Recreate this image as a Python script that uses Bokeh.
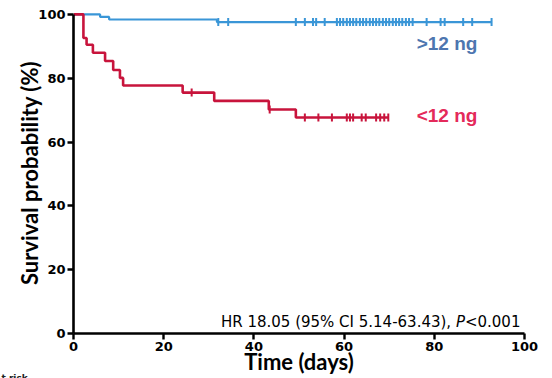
import numpy as np
from bokeh.plotting import figure
from bokeh.models import Range1d, Label, FixedTicker, Title
from bokeh.embed import file_html
from bokeh.resources import INLINE

# ---------------- data ----------------
low_event_t = [0, 2.2, 2.9, 4.3, 7.0, 8.8, 10.3, 11.0, 24.2, 31.2, 43.3, 49.3]
low_event_s = [100, 92.6, 90.5, 88.0, 85.4, 82.6, 80.1, 77.7, 75.5, 72.9, 70.2, 67.7]
low_end_t = 69.9
low_censor_t = [26.2, 43.5, 51.3, 54.3, 57.3, 60.6, 61.3, 62.0, 63.9, 64.8,
                67.1, 68.0, 68.9, 69.8]

high_event_t = [0, 5.9, 7.9, 31.8]
high_event_s = [100, 99.2, 98.4, 97.6]
high_end_t = 92.7
high_censor_t = [32.1, 34.3, 49.3, 51.3, 53.1, 53.8, 55.7,
                 58.4, 59.1, 59.8, 60.6, 61.3, 62.0, 62.7, 63.5, 64.2, 64.9,
                 65.7, 66.4, 67.1, 67.8, 68.6, 69.3, 70.0, 70.8, 71.5, 72.2,
                 72.9, 73.7, 74.4, 75.2,
                 78.3, 81.4, 82.3, 86.4, 88.4, 92.7]

x_ticks = [0, 20, 40, 60, 80, 100]
y_ticks = [0, 20, 40, 60, 80, 100]

high_name = ">12 ng"
low_name = "<12 ng"
hr_main = "HR 18.05 (95% CI 5.14-63.43),"
hr_p = "P"
hr_val = "<0.001"
corner_text = "t risk"

# ---------------- styles ----------------
BLUE_LINE = "#3a96d7"
BLUE_TEXT = "#4d76b0"
RED_LINE = "#c8143c"
RED_TEXT = "#e42a5a"

p = figure(width=552, height=378, output_backend="svg", toolbar_location=None,
           x_range=Range1d(0, 100), y_range=Range1d(0, 100.6),
           min_border_left=73, min_border_right=28, min_border_top=12,
           min_border_bottom=45)
p.outline_line_color = None
p.grid.visible = False
p.background_fill_color = "white"
p.border_fill_color = "white"


def curve(ev_t, ev_s, end_t, cens_t, color, width):
    xs = list(ev_t) + [end_t]
    ys = list(ev_s) + [ev_s[-1]]
    p.step(xs, ys, mode="after", line_color=color, line_width=width)
    idx = np.searchsorted(np.array(ev_t), np.array(cens_t), side="right") - 1
    cy = np.array(ev_s)[idx]
    p.scatter(cens_t, cy, marker="dash", angle=np.pi / 2, size=8,
              line_color=color, line_width=2)


curve(high_event_t, high_event_s, high_end_t, high_censor_t, BLUE_LINE, 2.2)
curve(low_event_t, low_event_s, low_end_t, low_censor_t, RED_LINE, 2.6)

for ax, ticks in ((p.xaxis[0], x_ticks), (p.yaxis[0], y_ticks)):
    ax.ticker = FixedTicker(ticks=ticks)
    ax.bounds = (0, 100)
    ax.axis_line_width = 2.6
    ax.axis_line_color = "black"
    ax.major_tick_line_width = 2.4
    ax.major_tick_line_color = "black"
    ax.major_tick_out = 6
    ax.major_tick_in = 0
    ax.minor_tick_line_color = None
    ax.major_label_text_font = "DejaVu Sans"
    ax.major_label_text_font_style = "bold"
    ax.major_label_text_font_size = "13px"
    ax.major_label_text_color = "black"
    ax.axis_label_text_font = "Lato"
    ax.axis_label_text_font_style = "bold"
    ax.axis_label_text_font_size = "22px"
    ax.axis_label_text_color = "black"
p.xaxis.major_label_standoff = 2
p.yaxis.major_label_standoff = 2

p.yaxis.axis_label = "Survival probability (%)"
p.yaxis.axis_label_standoff = -8
p.xaxis.axis_label = "Time (days)"
p.xaxis.axis_label_standoff = -6

# group labels
p.add_layout(Label(x=76.1, y=90.8, text=high_name, text_align="left",
                   text_baseline="alphabetic", text_font="Liberation Sans",
                   text_font_style="bold", text_font_size="19px", text_color=BLUE_TEXT))
p.add_layout(Label(x=76.1, y=68.2, text=low_name, text_align="left",
                   text_baseline="alphabetic", text_font="Liberation Sans",
                   text_font_style="bold", text_font_size="19px", text_color=RED_TEXT))

# hazard ratio annotation
hr_kw = dict(y=3.6, text_baseline="alphabetic", text_font="DejaVu Sans",
             text_font_size="15px", text_color="black", text_align="right")
p.add_layout(Label(x=99.1, text=hr_val, **hr_kw))
p.add_layout(Label(x=99.1, x_offset=-55.5, text=hr_p, text_font_style="italic", **hr_kw))
p.add_layout(Label(x=99.1, x_offset=-69.3, text=hr_main, **hr_kw))

# cropped "at risk" fragment in the bottom-left corner
p.add_layout(Title(text=corner_text, align="left", vertical_align="middle",
                   text_font="DejaVu Sans", text_font_style="bold",
                   text_font_size="9px", text_color="#222222",
                   standoff=-11, offset=-72), "below")

open("out.html", "w").write(file_html(p, INLINE))
